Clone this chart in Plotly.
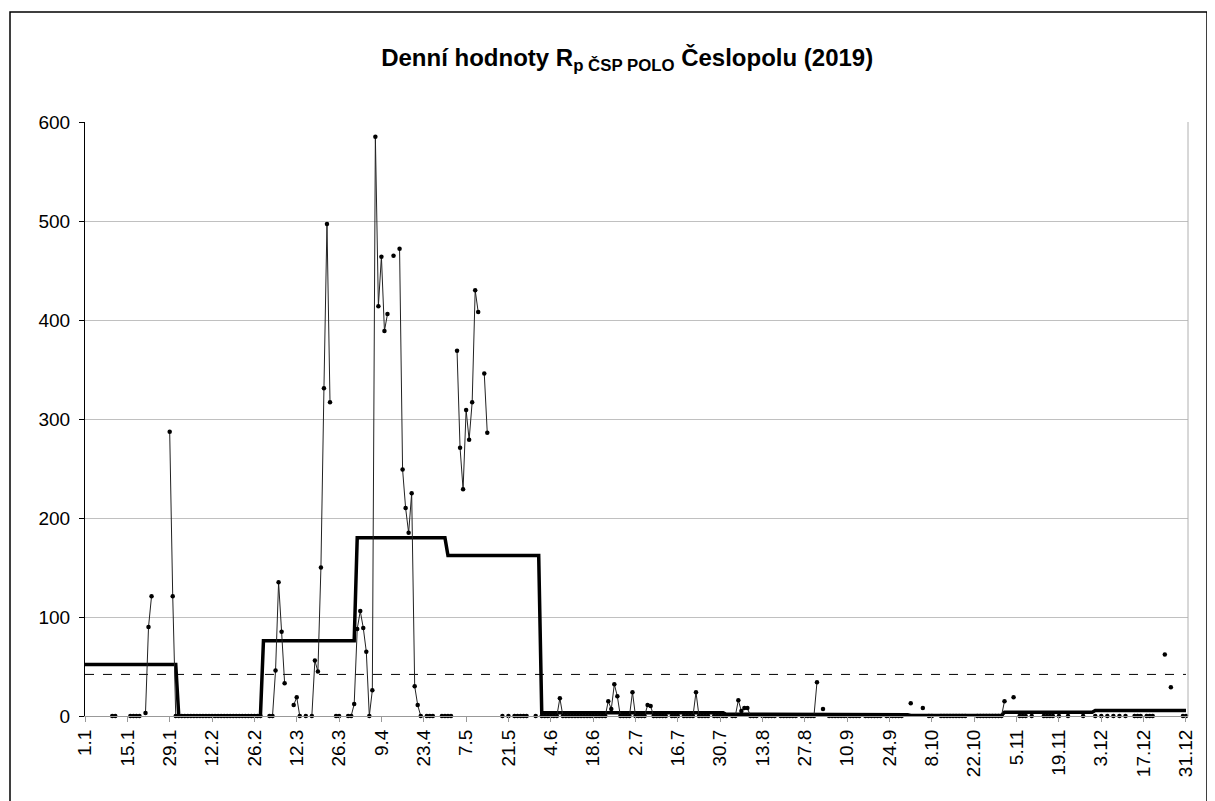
import pandas as pd
import plotly.graph_objects as go

N = None

jan = [N, N, N, N, N, N, N, N, N, 0, 0, N, N, N, N, 0, 0, 0, 0, N,
       3, 90, 121, N, N, N, N, N, 287, 121, 0]
feb = [0] * 28
mar = [N, N, 0, 0, 46, 135, 85, 33, N, N, 11, 19, 0, N, 0, N, 0, 56, 45, 150,
       331, 497, 317, N, 0, 0, N, N, 0, 0, 12]
apr = [88, 106, 89, 65, 0, 26, 585, 414, 464, 389, 406, N, 465, N, 472, 249, 210, 185, 225, 30,
       11, 0, N, 0, 0, 0, N, N, 0, 0]
may = [0, 0, N, 369, 271, 229, 309, 279, 317, 430, 408, N, 346, 286, N, N, N, N, 0, N,
       0, N, 0, 0, 0, 0, 0, N, N, 0, N]
jun = [0, 0, 0, 0, 0, 0, 18, 0, 0, 0, 0, 0, 0, 0, 0, 0, 0, 0, 0, 0,
       0, 0, 15, 7, 32, 20, 0, 0, 0, 0]
jul = [24, 0, 0, 0, 0, 11, 10, 0, 0, 0, 0, 0, N, 0, 0, 0, N, 0, 0, 0,
       0, 24, 0, 0, 0, 0, N, 0, 0, 0, 0]
aug = [0, N, 0, 0, 16, 5, 8, 8, 0, 0, 0, N, 0, 0, 0, 0, 0, N, 0, 0,
       0, 0, 0, 0, N, 0, 0, 0, 0, 0, 34]
sep = [N, 7, N, 0, 0, 0, 0, 0, 0, 0, 0, 0, 0, 0, N, 0, 0, 0, 0, 0,
       0, N, 0, 0, 0, 0, 0, 0, N, N]
oct_ = [13, N, N, N, 8, N, 0, 0, N, N, 0, 0, 0, 0, 0, 0, 0, 0, 0, N,
        N, N, 0, 0, 0, 0, 0, 0, 0, 0, 0]
nov = [15, N, N, 19, N, 0, 0, 0, N, 0, N, N, N, 0, 0, 0, 0, N, 0, N,
       N, 0, N, N, N, N, 0, N, N, N]
dec = [0, N, 0, N, 0, N, 0, N, 0, N, 0, N, N, 0, 0, 0, N, 0, 0, 0,
       N, N, N, 62, N, 29, N, N, N, 0, 0]

months = [jan, feb, mar, apr, may, jun, jul, aug, sep, oct_, nov, dec]
monthly_avg = [52, 0, 76, 180, 162, 3.2, 3.2, 1.8, 1.2, 0.6, 3.8, 5.5]
annual_avg = 42

daily = [v for m in months for v in m]
dates = pd.date_range("2019-01-01", "2019-12-31", freq="D")
month_line = [monthly_avg[i] for i, m in enumerate(months) for _ in m]

font = "Liberation Sans, Arial, sans-serif"

# page body has an 8px margin, so the figure is a bit smaller than the window
W, H = 1207, 793
L, R, T, B = 77, 27, 114, 85

fig = go.Figure()
fig.add_trace(go.Scatter(x=dates, y=[annual_avg] * len(dates), mode="lines",
                         line=dict(color="black", width=1, dash="dash"), hoverinfo="skip"))
fig.add_trace(go.Scatter(x=dates, y=month_line, mode="lines",
                         line=dict(color="black", width=3.5)))
fig.add_trace(go.Scatter(x=dates, y=daily, mode="lines+markers", connectgaps=False,
                         line=dict(color="#222222", width=1),
                         marker=dict(color="black", size=4.5), cliponaxis=False))

fig.update_layout(
    width=W, height=H,
    paper_bgcolor="white", plot_bgcolor="white",
    showlegend=False,
    margin=dict(l=L, r=R, t=T, b=B),
    title=dict(text="<b>Denní hodnoty R<sub>p ČSP POLO</sub> Česlopolu (2019)</b>",
               x=0.513, xref="container", xanchor="center", y=0.938, yanchor="middle",
               font=dict(family=font, size=24, color="black")),
    font=dict(family=font, size=19, color="black"),
)
fig.update_xaxes(
    range=["2019-01-01", "2019-12-31 16:00"],
    tick0="2019-01-01", dtick=14 * 86400000, tickformat="%-d.%-m",
    tickangle=-90, ticks="outside", ticklen=5, tickcolor="#999999",
    showline=True, linecolor="#999999", linewidth=1,
    showgrid=False, zeroline=False,
    tickfont=dict(family=font, size=19, color="black"),
)
fig.update_yaxes(
    range=[0, 600], dtick=100,
    ticks="outside", ticklen=5, tickcolor="black", ticklabelstandoff=5,
    showline=True, linecolor="black", linewidth=1,
    showgrid=True, gridcolor="#c0c0c0", gridwidth=1, zeroline=False,
    tickfont=dict(family=font, size=19, color="black"),
)
pw, ph = W - L - R, H - T - B
# right edge of the plot area and the outer chart frame
fig.add_shape(type="line", xref="paper", yref="paper", x0=1, x1=1, y0=0, y1=1,
              line=dict(color="#b0b0b0", width=1))
fig.add_shape(type="rect", xref="paper", yref="paper",
              x0=(2 - L) / pw, x1=(1199 - L) / pw, y0=-0.2, y1=(T + ph - 4) / ph,
              line=dict(color="black", width=1.5))

fig.write_html("out.html")
